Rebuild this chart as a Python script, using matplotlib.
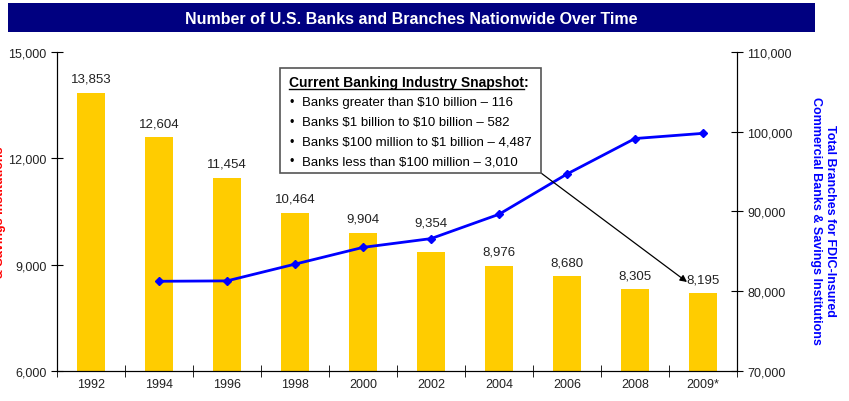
import matplotlib.pyplot as plt
from matplotlib.patches import Rectangle
from matplotlib.lines import Line2D

plt.rcParams['font.family'] = ['Liberation Sans', 'DejaVu Sans']

years = ['1992', '1994', '1996', '1998', '2000', '2002', '2004', '2006', '2008', '2009*']
banks = [13853, 12604, 11454, 10464, 9904, 9354, 8976, 8680, 8305, 8195]
branch_years = ['1994', '1996', '1998', '2000', '2002', '2004', '2006', '2008', '2009*']
branches = [81250, 81300, 83400, 85500, 86600, 89650, 94700, 99150, 99800]

snapshot_title = 'Current Banking Industry Snapshot:'
snapshot = ['Banks greater than \\$10 billion \u2013 116',
            'Banks \\$1 billion to \\$10 billion \u2013 582',
            'Banks \\$100 million to \\$1 billion \u2013 4,487',
            'Banks less than \\$100 million \u2013 3,010']

W, H = 849, 402
fig = plt.figure(figsize=(W / 100, H / 100), dpi=100)

def fx(px):
    return px / W

def fy(py):
    return 1 - py / H

# title bar
fig.patches.append(Rectangle((fx(8), fy(33)), fx(807), 29 / H, transform=fig.transFigure,
                             facecolor='#000080', edgecolor='none'))
fig.text(fx(411), fy(19), 'Number of U.S. Banks and Branches Nationwide Over Time',
         color='white', fontsize=11.5, fontweight='bold', ha='center', va='center')

ax = fig.add_axes([fx(57), fy(372), fx(737 - 57), (372 - 53) / H])
x = list(range(len(years)))
ax.bar(x, banks, width=0.41, color='#FFCC00')
for i, v in enumerate(banks):
    off = 21.5 if years[i] == '2002' else 10  # 2002 label lifted above the line
    ax.annotate(f'{v:,}', (i, v), xytext=(0, off), textcoords='offset points',
                ha='center', va='center', fontsize=9.5, color='#222222')

ax.set_xlim(-0.5, len(years) - 0.5)
ax.set_ylim(6000, 15000)
ax.set_yticks([6000, 9000, 12000, 15000])
ax.set_yticklabels([f'{t:,}' for t in [6000, 9000, 12000, 15000]], fontsize=9, color='#222222')
ax.set_xticks(x)
ax.set_xticklabels(years, fontsize=9, color='#222222')
ax.set_xticks([i + 0.5 for i in range(-1, len(years))], minor=True)
ax.tick_params(axis='x', which='major', length=0, pad=5)
ax.tick_params(axis='x', which='minor', direction='inout', length=8)
ax.tick_params(axis='y', direction='inout', length=8)
ax.spines['top'].set_visible(False)
ax.set_ylabel('Total FDIC-Insured Commercial Banks\n& Savings Institutions',
              color='red', fontsize=9, fontweight='bold')
ax.yaxis.set_label_coords(-0.0752, 0.5)

ax2 = ax.twinx()
bx = [years.index(y) for y in branch_years]
ax2.plot(bx, branches, color='#0000FF', linewidth=2, marker='D', markersize=4)
ax2.set_ylim(70000, 110000)
ax2.set_yticks([70000, 80000, 90000, 100000, 110000])
ax2.set_yticklabels([f'{t:,}' for t in [70000, 80000, 90000, 100000, 110000]],
                    fontsize=9, color='#222222')
ax2.tick_params(axis='y', direction='inout', length=8)
ax2.spines['top'].set_visible(False)
ax2.set_ylabel('Total Branches for FDIC-Insured\nCommercial Banks & Savings Institutions',
               color='#0000FF', fontsize=9, fontweight='bold', rotation=-90)
ax2.yaxis.set_label_coords(1.146, 0.475)

# snapshot box
fig.patches.append(Rectangle((fx(280), fy(174)), fx(261), 105 / H, transform=fig.transFigure,
                             facecolor='white', edgecolor='#555555', linewidth=1.2, zorder=5))
fig.text(fx(289), fy(83), snapshot_title, fontsize=10, fontweight='bold', va='center',
         zorder=6)
fig.lines.append(Line2D([fx(289), fx(524)], [fy(90), fy(90)], transform=fig.transFigure,
                        color='black', linewidth=1, zorder=6))
for k, line in enumerate(snapshot):
    yy = 103 + k * 19.8
    fig.text(fx(290), fy(yy), '\u2022', fontsize=9, va='center', zorder=6)
    fig.text(fx(302), fy(yy), line, fontsize=9.5, va='center', zorder=6)

ax2.annotate('', xy=(fx(687), fy(283)), xycoords='figure fraction',
             xytext=(fx(541), fy(174)), textcoords='figure fraction',
             arrowprops=dict(arrowstyle='-|>', color='black', lw=0.9, mutation_scale=10,
                             shrinkA=0, shrinkB=0))

fig.savefig('out.png', dpi=100)
